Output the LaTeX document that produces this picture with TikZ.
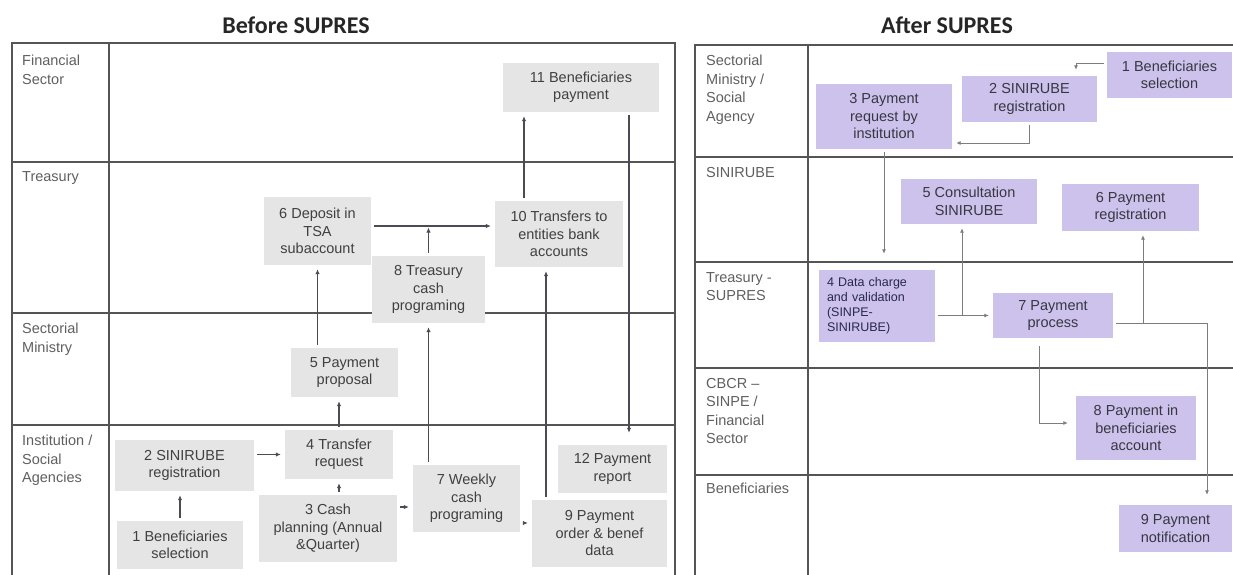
\documentclass[tikz,border=0pt]{standalone}
\usepackage{fontspec}
\setmainfont{Liberation Sans}
\newfontfamily\headfont{Carlito}
\usepackage{xcolor}
\usepackage{tikz}
\usetikzlibrary{arrows.meta}

\definecolor{lanegrey}{RGB}{85,85,85}
\definecolor{labelgrey}{RGB}{95,95,95}
\definecolor{procgrey}{RGB}{229,229,229}
\definecolor{proctext}{RGB}{64,64,64}
\definecolor{procviolet}{RGB}{205,194,236}
\definecolor{violettext}{RGB}{55,55,65}
\definecolor{darktext}{RGB}{40,40,80}
\definecolor{flowgrey}{RGB}{75,75,85}
\definecolor{linkgrey}{RGB}{125,125,125}

\begin{document}
\begin{tikzpicture}[x=1pt, y=-1pt,
  font=\fontsize{14.5}{17.5}\selectfont,
  lane/.style={draw=lanegrey, line width=1.3pt},
  lanelbl/.style={anchor=north west, align=left, inner sep=0pt, text=labelgrey, font=\fontsize{14.5}{18.5}\selectfont},
  head/.style={font=\headfont\bfseries\fontsize{24}{28}\selectfont, text=black!85},
  proc/.style={fill=procgrey, text=proctext, align=center, inner sep=0pt},
  newproc/.style={fill=procviolet, text=violettext, align=center, inner sep=0pt},
  sz/.style 2 args={minimum width=#1pt, minimum height=#2pt},
  flow/.style={draw=flowgrey, line width=1.2pt, -{Latex[length=5pt,width=4.5pt]}, shorten >=4pt, shorten <=3pt},
  link/.style={draw=linkgrey, line width=0.8pt, -{Latex[length=4.5pt,width=4pt]}, shorten >=4pt, shorten <=3pt}]
\useasboundingbox (0,0) rectangle (1233,575);

% titles
\node[head] (before) at (296,25) {Before SUPRES};
\node[head] (after) at (947,25) {After SUPRES};

% swimlanes, before
\draw[lane] (12,575) -- (12,43) -- (675,43) -- (675,575);
\draw[lane] (109,43) -- (109,575);
\foreach \y in {162,313,425} \draw[lane] (12,\y) -- (675,\y);
\node[lanelbl] (lfin) at (22,55) {Financial\\Sector};
\node[lanelbl] (ltre) at (22,171) {Treasury};
\node[lanelbl] (lmin) at (22,323) {Sectorial\\Ministry};
\node[lanelbl] (linst) at (22,435) {Institution /\\Social\\Agencies};

% swimlanes, after
\draw[lane] (695,575) -- (695,45) -- (1233,45);
\draw[lane] (808,45) -- (808,575);
\foreach \y in {157,262,368,475} \draw[lane] (695,\y) -- (1233,\y);
\node[lanelbl] (rmin) at (706,55) {Sectorial\\Ministry /\\Social\\Agency};
\node[lanelbl] (rsin) at (706,167) {SINIRUBE};
\node[lanelbl] (rtre) at (706,272) {Treasury -\\SUPRES};
\node[lanelbl] (rcb) at (706,378) {CBCR –\\SINPE /\\Financial\\Sector};
\node[lanelbl] (rben) at (706,483) {Beneficiaries};

% steps, before
\node[proc, sz={156}{49}] (b11) at (581,87.5) {11 Beneficiaries\\payment};
\node[proc, sz={128}{66}] (b10) at (559,234) {10 Transfers to\\entities bank\\accounts};
\node[proc, sz={107}{68}] (b6) at (317.5,231) {6 Deposit in\\TSA\\subaccount};
\node[proc, sz={113}{67}] (b8) at (428.5,289.5) {8 Treasury\\cash\\programing};
\node[proc, sz={107}{49}] (b5) at (344.5,372.5) {5 Payment\\proposal};
\node[proc, sz={108}{49}] (b4) at (339,454.5) {4 Transfer\\request};
\node[proc, sz={139}{51}] (b2) at (184.5,465.5) {2 SINIRUBE\\registration};
\node[proc, sz={126}{48}] (b1) at (180,545) {1 Beneficiaries\\selection};
\node[proc, sz={138}{67}] (b3) at (328,528.5) {3 Cash\\planning (Annual\\\&Quarter)};
\node[proc, sz={107}{67}] (b7) at (466.5,498.5) {7 Weekly\\cash\\programing};
\node[proc, sz={109}{48}] (b12) at (612.5,469) {12 Payment\\report};
\node[proc, sz={135}{67}] (b9) at (599.5,533.5) {9 Payment\\order \& benef\\data};

% flows, before
\draw[flow] (b1.north) -- (b1.north |- b2.south);
\draw[flow] (b4.west -| b2.east) -- (b4.west);
\draw[flow] (b4.south |- b3.north) -- (b4.south);
\draw[flow] (b4.north) -- (b4.north |- b5.south);
\draw[flow] (b6.south |- b5.north) -- (b6.south);
\coordinate (j6) at ([yshift=5pt]b6.east);
\draw[flow] (j6) -- (j6 -| b10.west);
\draw[flow, shorten >=1.5pt] (b8.north) -- (b8.north |- j6);
\coordinate (j37) at ([yshift=-8.5pt]b7.west);
\draw[flow] (j37 -| b3.east) -- (j37);
\draw[flow] (b8.south |- b7.north) -- (b8.south);
\coordinate (j79) at ([yshift=10.5pt]b9.west);
\draw[flow] (j79 -| b7.east) -- (j79);
\coordinate (j910) at ([xshift=-13pt]b10.south);
\draw[flow] (j910 |- b9.north) -- (j910);
\coordinate (j1011) at ([xshift=-35pt]b10.north);
\draw[flow] (j1011) -- (j1011 |- b11.south);
\coordinate (j1112) at ([xshift=48pt]b11.south);
\draw[flow, shorten >=12pt] (j1112) -- (j1112 |- b12.north);

% steps, after
\node[newproc, sz={125}{46}] (r1) at (1169.5,75) {1 Beneficiaries\\selection};
\node[newproc, sz={135}{46}] (r2) at (1029.5,99) {2 SINIRUBE\\registration};
\node[newproc, sz={136}{65}] (r3) at (884,116.5) {3 Payment\\request by\\institution};
\node[newproc, sz={116}{72}, text width=100pt, align=left, text=darktext,
  font=\fontsize{12.5}{15}\selectfont] (r4) at (877,306) {4 Data charge\\and validation\\(SINPE-\\SINIRUBE)};
\node[newproc, sz={136}{45}] (r5) at (969,201.5) {5 Consultation\\SINIRUBE};
\node[newproc, sz={137}{47}] (r6) at (1130.5,207.5) {6 Payment\\registration};
\node[newproc, sz={120}{45}] (r7) at (1053,315.5) {7 Payment\\process};
\node[newproc, sz={120}{64}] (r8) at (1136,428) {8 Payment in\\beneficiaries\\account};
\node[newproc, sz={113}{47}] (r9) at (1175.5,528.5) {9 Payment\\notification};

% flows, after
\coordinate (k12) at ([xshift=46.5pt]r2.north);
\draw[link, shorten >=6pt] ([yshift=12pt]r1.west) -| (k12);
\draw[link] (r2.south) |- ([yshift=-26.5pt]r3.east);
\coordinate (k34) at ([yshift=16pt]r4.north);
\draw[link, shorten >=0pt] (r3.south) -- (r3.south |- k34);
\draw[link] (r7.west -| r4.east) -- (r7.west);
\coordinate (k5) at ([xshift=-7pt]r5.south);
\draw[link, shorten <=0pt] (k5 |- r7.west) -- (k5);
\coordinate (k7) at ([yshift=-7.5pt]r7.east);
\draw[link] (k7) -| ([xshift=12.5pt]r6.south);
\draw[link, shorten >=10pt] (k7) -| ([xshift=31.5pt]r9.north);
\draw[link, shorten <=8pt, shorten >=8pt] ([xshift=-14pt]r7.south) |- ([yshift=5pt]r8.west);
\end{tikzpicture}
\end{document}
